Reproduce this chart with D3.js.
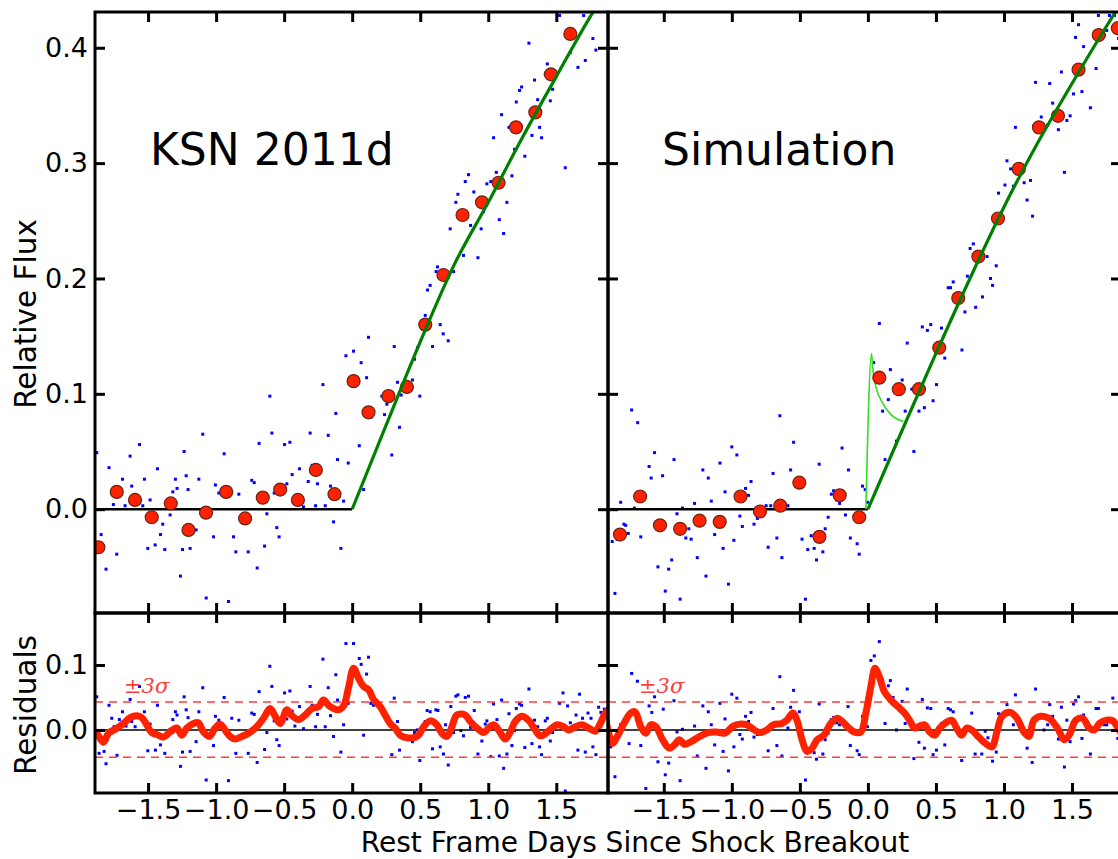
<!DOCTYPE html>
<html>
<head>
<meta charset="utf-8">
<script src="https://cdn.jsdelivr.net/npm/d3@7"></script>
<style>
  body { margin: 0; background: #fff; }
  svg { font-family: "DejaVu Sans", sans-serif; }
  .spine { fill: none; stroke: #000; stroke-width: 3; }
  .tick line { stroke: #000; stroke-width: 3; }
  .tick text { font-family: "DejaVu Sans", sans-serif; font-size: 27px; fill: #000; }
  .axisLabel { font-size: 29.5px; fill: #000; }
  .xLabel { font-size: 28px; }
  .title { font-size: 44px; fill: #000; }
  .dot { fill: #0000ff; }
  .bin { fill: #ff2200; stroke: #6b2414; stroke-width: 1.2; }
  .baseline { fill: none; stroke: #000; stroke-width: 2.5; }
  .model { fill: none; stroke: #008000; stroke-width: 3.2; }
  .shock { fill: none; stroke: #33dd22; stroke-width: 1.6; }
  .zero { fill: none; stroke: #000; stroke-width: 1.5; }
  .sigma { fill: none; stroke: #ff3b3b; stroke-width: 1.4; stroke-dasharray: 8,6; }
  .smooth { fill: none; stroke: #ff2200; stroke-width: 7; stroke-linejoin: round; stroke-linecap: round; }
  .sigmaLabel { font-family: "DejaVu Serif", serif; font-style: italic; font-size: 21px; fill: #ff3b3b; }
</style>
</head>
<body>
<svg id="chart" width="1118" height="859"></svg>
<script>
// tick positions
var xTicks = [-1.5, -1.0, -0.5, 0.0, 0.5, 1.0, 1.5];
var fluxTicks = [0.0, 0.1, 0.2, 0.3, 0.4];
var residTicks = [0.0, 0.1];
var sigmaLevels = [0.043, -0.042];

// KSN 2011d : binned points (red)
var ksnBins = [[-1.865,-0.033],[-1.730,0.015],[-1.596,0.008],[-1.473,-0.007],[-1.333,0.005],
  [-1.203,-0.018],[-1.074,-0.003],[-0.926,0.015],[-0.787,-0.008],[-0.657,0.010],[-0.529,0.017],
  [-0.399,0.008],[-0.267,0.034],[-0.130,0.013],[0.010,0.111],[0.120,0.084],[0.267,0.098],
  [0.402,0.106],[0.537,0.160],[0.671,0.203],[0.811,0.255],[0.954,0.266],[1.076,0.283],
  [1.204,0.331],[1.346,0.344],[1.461,0.377],[1.603,0.412]];

// KSN 2011d : raw light curve (blue)
var ksnDots = [[-1.877,0.049],[-1.845,-0.022],[-1.809,-0.052],[-1.787,0.036],[-1.755,0.004],
  [-1.730,-0.039],[-1.688,0.026],[-1.669,0.003],[-1.632,0.046],[-1.620,0.020],[-1.563,0.056],
  [-1.539,0.003],[-1.527,0.026],[-1.502,-0.034],[-1.485,0.008],[-1.448,-0.031],[-1.431,0.035],
  [-1.409,-0.022],[-1.392,-0.013],[-1.377,-0.035],[-1.338,-0.005],[-1.318,0.015],[-1.299,0.026],
  [-1.287,0.018],[-1.262,-0.058],[-1.247,-0.035],[-1.235,0.050],[-1.220,0.029],[-1.206,0.017],
  [-1.191,-0.034],[-1.147,-0.018],[-1.127,0.026],[-1.098,0.065],[-1.073,-0.077],[-1.019,-0.024],
  [-1.005,0.021],[-0.980,0.014],[-0.956,0.017],[-0.941,0.048],[-0.909,-0.080],[-0.872,-0.024],
  [-0.855,-0.037],[-0.833,0.013],[-0.764,-0.037],[-0.738,0.025],[-0.720,0.023],[-0.698,-0.051],
  [-0.684,0.057],[-0.644,-0.032],[-0.627,-0.004],[-0.605,0.098],[-0.590,0.066],[-0.573,0.014],
  [-0.554,-0.016],[-0.537,-0.024],[-0.497,0.056],[-0.480,0.022],[-0.458,0.058],[-0.441,0.030],
  [-0.387,0.035],[-0.358,0.002],[-0.323,0.024],[-0.309,0.066],[-0.294,0.038],[-0.269,0.003],
  [-0.255,0.022],[-0.215,0.108],[-0.198,0.003],[-0.176,0.064],[-0.159,0.020],[-0.137,-0.011],
  [-0.120,0.083],[-0.108,0.043],[-0.083,-0.034],[-0.063,0.007],[-0.029,0.040],[-0.046,0.133],
  [0.010,0.137],[0.052,0.055],[0.066,0.127],[0.084,0.017],[0.106,0.114],[0.120,0.149],
  [0.142,0.080],[0.238,0.082],[0.218,0.098],[0.255,0.091],[0.309,0.141],[0.291,0.047],
  [0.333,0.110],[0.348,0.071],[0.360,0.099],[0.443,0.112],[0.458,0.130],[0.480,0.140],
  [0.497,0.098],[0.537,0.168],[0.590,0.141],[0.647,0.160],[0.669,0.152],[0.706,0.146],
  [0.554,0.190],[0.573,0.194],[0.627,0.210],[0.617,0.206],[0.745,0.206],[0.720,0.243],
  [0.762,0.266],[0.777,0.273],[0.818,0.220],[0.831,0.284],[0.855,0.290],[0.870,0.246],
  [0.894,0.275],[0.924,0.218],[0.948,0.243],[0.965,0.258],[0.990,0.282],[1.019,0.284],
  [1.039,0.322],[1.059,0.292],[1.081,0.251],[1.098,0.342],[1.113,0.239],[1.137,0.266],
  [1.152,0.331],[1.174,0.289],[1.193,0.312],[1.206,0.353],[1.230,0.363],[1.245,0.366],
  [1.269,0.306],[1.299,0.404],[1.321,0.324],[1.340,0.372],[1.363,0.355],[1.377,0.331],
  [1.392,0.322],[1.419,0.377],[1.434,0.386],[1.456,0.354],[1.473,0.364],[1.524,0.428],
  [1.566,0.296],[1.603,0.396],[1.659,0.383],[1.701,0.428],[1.713,0.389],[1.769,0.408],
  [1.791,0.398]];

var ksnBaseline = [[-1.95,0],[0,0]];
var ksnModel = [[0,0],[0.25,0.073],[0.5,0.145],[0.75,0.212],[1.0,0.266],[1.25,0.322],
  [1.5,0.375],[1.75,0.427],[1.9,0.455]];

var ksnResidDots = [[-1.877,0.051],[-1.860,-0.036],[-1.823,-0.033],[-1.809,-0.052],[-1.787,0.038],
  [-1.767,0.018],[-1.750,0.005],[-1.728,-0.039],[-1.711,0.016],[-1.688,0.028],[-1.662,0.006],
  [-1.632,0.047],[-1.620,0.013],[-1.595,0.005],[-1.563,0.067],[-1.527,0.028],[-1.502,-0.032],
  [-1.485,0.009],[-1.446,-0.031],[-1.431,0.038],[-1.409,-0.023],[-1.377,-0.036],[-1.338,0.001],
  [-1.318,0.016],[-1.299,0.028],[-1.287,0.023],[-1.262,-0.056],[-1.247,-0.034],[-1.235,0.051],
  [-1.220,0.031],[-1.206,0.019],[-1.191,-0.033],[-1.147,-0.018],[-1.127,0.028],[-1.098,0.065],
  [-1.073,-0.077],[-1.019,-0.024],[-1.005,0.021],[-0.980,0.015],[-0.941,0.050],[-0.909,-0.078],
  [-0.885,0.018],[-0.855,-0.036],[-0.833,0.015],[-0.764,-0.036],[-0.738,0.026],[-0.720,0.024],
  [-0.698,-0.050],[-0.684,0.059],[-0.644,-0.030],[-0.627,-0.004],[-0.605,0.098],[-0.590,0.067],
  [-0.573,0.014],[-0.554,-0.015],[-0.537,-0.024],[-0.497,0.057],[-0.480,0.017],[-0.458,0.060],
  [-0.441,0.029],[-0.421,0.006],[-0.387,0.036],[-0.358,0.002],[-0.323,0.026],[-0.309,0.067],
  [-0.294,0.038],[-0.269,0.005],[-0.255,0.024],[-0.215,0.109],[-0.198,0.005],[-0.176,0.065],
  [-0.159,0.022],[-0.137,-0.010],[-0.120,0.085],[-0.108,0.046],[-0.083,-0.034],[-0.063,0.008],
  [-0.029,0.041],[-0.046,0.133],[0.010,0.133],[0.052,0.110],[0.066,0.101],[0.084,-0.008],
  [0.106,0.086],[0.120,0.112],[0.137,0.041],[0.157,0.038],[0.267,0.019],[0.291,-0.038],
  [0.309,0.049],[0.333,0.013],[0.348,-0.031],[0.443,-0.018],[0.458,-0.004],[0.480,0.000],
  [0.497,-0.047],[0.537,0.013],[0.551,0.030],[0.573,0.028],[0.590,-0.029],[0.615,0.031],
  [0.630,0.030],[0.647,-0.026],[0.671,-0.037],[0.686,0.008],[0.706,-0.054],[0.725,0.036],
  [0.745,-0.004],[0.762,0.052],[0.777,0.054],[0.799,-0.001],[0.818,-0.009],[0.831,0.050],
  [0.855,0.052],[0.870,0.004],[0.897,0.030],[0.924,-0.037],[0.953,-0.017],[0.978,0.009],
  [0.990,0.014],[1.019,-0.041],[1.039,0.040],[1.064,0.016],[1.081,-0.040],[1.098,0.046],
  [1.113,-0.059],[1.137,-0.037],[1.152,0.025],[1.174,-0.024],[1.193,-0.001],[1.206,0.033],
  [1.230,0.040],[1.245,0.038],[1.269,-0.027],[1.299,0.063],[1.321,-0.021],[1.340,0.015],
  [1.363,0.005],[1.377,-0.026],[1.392,-0.038],[1.419,0.014],[1.434,0.018],[1.456,-0.017],
  [1.473,-0.004],[1.524,0.041],[1.549,0.057],[1.566,-0.094],[1.583,0.037],[1.603,0.011],
  [1.645,0.023],[1.659,-0.031],[1.671,0.055],[1.693,0.018],[1.713,-0.034],[1.733,0.026],
  [1.755,0.018],[1.769,-0.026],[1.791,-0.038],[1.811,0.035],[1.828,0.027],[1.853,0.032]];

var ksnResidSmooth = [[-1.90,-0.002],[-1.877,-0.005],[-1.828,-0.019],[-1.791,-0.005],[-1.742,0.001],
  [-1.681,0.010],[-1.632,0.019],[-1.583,0.022],[-1.546,0.019],[-1.510,0.008],[-1.473,-0.004],
  [-1.424,-0.008],[-1.387,-0.011],[-1.338,-0.003],[-1.289,0.003],[-1.252,-0.008],[-1.215,0.003],
  [-1.166,0.010],[-1.130,0.011],[-1.093,-0.003],[-1.049,-0.010],[-1.007,0.003],[-0.970,0.009],
  [-0.934,0.000],[-0.897,-0.010],[-0.860,-0.014],[-0.811,-0.010],[-0.762,-0.005],[-0.701,0.005],
  [-0.652,0.018],[-0.603,0.033],[-0.566,0.021],[-0.529,0.010],[-0.480,0.031],[-0.443,0.022],
  [-0.394,0.016],[-0.345,0.023],[-0.296,0.033],[-0.247,0.036],[-0.211,0.046],[-0.174,0.038],
  [-0.137,0.033],[-0.100,0.031],[-0.063,0.037],[-0.027,0.065],[0.010,0.095],[0.046,0.080],
  [0.083,0.067],[0.120,0.062],[0.157,0.047],[0.206,0.036],[0.242,0.023],[0.279,0.010],
  [0.316,0.003],[0.353,-0.008],[0.402,-0.012],[0.451,-0.012],[0.488,-0.008],[0.525,0.005],
  [0.573,0.014],[0.622,0.008],[0.659,-0.005],[0.696,-0.010],[0.733,0.005],[0.769,0.023],
  [0.831,0.023],[0.868,0.013],[0.917,0.003],[0.966,-0.004],[1.002,0.003],[1.039,0.008],
  [1.076,0.000],[1.125,-0.014],[1.162,-0.003],[1.198,0.013],[1.247,0.021],[1.296,0.015],
  [1.345,0.000],[1.382,-0.009],[1.431,-0.004],[1.468,0.003],[1.505,0.008],[1.554,0.005],
  [1.591,0.000],[1.640,0.005],[1.689,0.008],[1.738,0.003],[1.787,-0.002],[1.823,0.010],
  [1.860,0.026],[1.885,0.031]];

// Simulation : binned points (red)
var simBins = [[-1.822,-0.022],[-1.674,0.011],[-1.528,-0.014],[-1.380,-0.017],[-1.237,-0.010],
  [-1.089,-0.011],[-0.936,0.011],[-0.793,-0.002],[-0.644,0.003],[-0.504,0.023],[-0.356,-0.024],
  [-0.207,0.012],[-0.064,-0.007],[0.084,0.114],[0.227,0.104],[0.375,0.104],[0.524,0.140],
  [0.664,0.183],[0.812,0.219],[0.956,0.252],[1.109,0.295],[1.257,0.331],[1.397,0.341],
  [1.548,0.381],[1.696,0.411],[1.837,0.417]];

// Simulation : raw light curve (blue)
var simDots = [[-1.859,-0.073],[-1.879,-0.028],[-1.842,-0.026],[-1.817,0.006],[-1.793,-0.013],
  [-1.780,-0.014],[-1.761,-0.021],[-1.736,0.086],[-1.716,0.001],[-1.692,0.075],[-1.669,-0.024],
  [-1.608,0.037],[-1.593,0.027],[-1.568,0.049],[-1.543,-0.050],[-1.509,0.029],[-1.489,-0.071],
  [-1.464,-0.052],[-1.442,-0.044],[-1.425,0.043],[-1.403,-0.004],[-1.380,-0.078],[-1.363,0.001],
  [-1.338,-0.025],[-1.316,-0.017],[-1.299,-0.026],[-1.274,0.005],[-1.254,-0.042],[-1.213,0.034],
  [-1.190,-0.058],[-1.173,0.027],[-1.151,0.007],[-1.126,-0.022],[-1.087,0.040],[-1.064,-0.034],
  [-1.050,0.015],[-1.025,-0.065],[-1.000,0.054],[-0.985,-0.027],[-0.963,0.047],[-0.941,-0.006],
  [-0.923,-0.015],[-0.899,0.018],[-0.877,0.012],[-0.859,0.024],[-0.837,-0.013],[-0.812,-0.008],
  [-0.748,0.003],[-0.733,-0.033],[-0.714,0.003],[-0.697,0.031],[-0.669,-0.025],[-0.647,0.081],
  [-0.632,-0.042],[-0.588,0.003],[-0.568,0.034],[-0.546,0.058],[-0.484,-0.026],[-0.459,-0.078],
  [-0.442,-0.035],[-0.417,-0.023],[-0.395,-0.034],[-0.378,-0.044],[-0.358,0.039],[-0.331,-0.037],
  [-0.314,-0.017],[-0.292,-0.007],[-0.269,0.013],[-0.252,0.016],[-0.230,0.008],[-0.208,0.005],
  [-0.190,0.053],[-0.165,-0.005],[-0.143,0.034],[-0.129,-0.025],[-0.079,-0.030],[-0.064,-0.039],
  [-0.040,0.020],[-0.020,0.017],[-0.003,0.006],[0.042,0.127],[0.084,0.161],[0.108,0.085],
  [0.126,0.043],[0.150,0.095],[0.165,0.121],[0.210,0.059],[0.252,0.112],[0.274,0.085],
  [0.289,0.144],[0.323,0.104],[0.338,0.050],[0.375,0.085],[0.400,0.158],[0.415,0.088],
  [0.437,0.155],[0.462,0.160],[0.479,0.094],[0.504,0.108],[0.541,0.157],[0.565,0.131],
  [0.691,0.138],[0.713,0.171],[0.792,0.175],[0.590,0.192],[0.607,0.192],[0.627,0.197],
  [0.731,0.202],[0.751,0.226],[0.775,0.230],[0.842,0.184],[0.876,0.219],[0.901,0.200],
  [0.916,0.194],[0.943,0.211],[0.960,0.274],[1.007,0.281],[1.022,0.302],[1.049,0.295],
  [1.069,0.280],[1.084,0.331],[1.128,0.296],[1.148,0.283],[1.170,0.268],[1.195,0.285],
  [1.210,0.254],[1.232,0.370],[1.274,0.340],[1.321,0.333],[1.336,0.369],[1.358,0.352],
  [1.400,0.329],[1.422,0.379],[1.444,0.292],[1.462,0.337],[1.486,0.341],[1.511,0.360],
  [1.526,0.409],[1.548,0.420],[1.573,0.362],[1.585,0.401],[1.635,0.348],[1.677,0.382],
  [1.694,0.428],[1.738,0.411],[1.755,0.415],[1.775,0.428],[1.812,0.428],[1.842,0.408],
  [1.849,0.405]];

var simBaseline = [[-1.95,0],[0,0]];
var simModel = [[0,0],[0.25,0.068],[0.5,0.135],[0.75,0.200],[1.0,0.262],[1.25,0.318],
  [1.5,0.369],[1.75,0.418],[1.9,0.446]];
var simShock = [[-0.015,0.0],[0.027,0.135],[0.034,0.124],[0.059,0.106],[0.109,0.092],
  [0.170,0.082],[0.262,0.076]];

var simResidDots = [[-1.953,0.031],[-1.928,0.033],[-1.891,-0.026],[-1.859,-0.072],[-1.817,0.008],
  [-1.755,-0.021],[-1.736,0.087],[-1.694,0.075],[-1.669,-0.024],[-1.632,-0.090],[-1.608,0.037],
  [-1.588,0.027],[-1.568,0.051],[-1.543,-0.049],[-1.504,0.032],[-1.489,-0.069],[-1.464,-0.051],
  [-1.425,0.045],[-1.403,-0.003],[-1.380,-0.078],[-1.363,0.001],[-1.274,0.006],[-1.254,-0.040],
  [-1.213,0.037],[-1.190,-0.059],[-1.173,0.028],[-1.151,0.008],[-1.126,-0.023],[-1.087,0.041],
  [-1.064,-0.033],[-1.050,0.017],[-1.025,-0.063],[-1.000,0.055],[-0.985,-0.026],[-0.963,0.049],
  [-0.941,-0.007],[-0.923,-0.014],[-0.899,0.021],[-0.877,0.013],[-0.859,0.027],[-0.837,-0.011],
  [-0.812,-0.007],[-0.733,-0.032],[-0.714,0.004],[-0.697,0.033],[-0.669,-0.024],[-0.647,0.082],
  [-0.632,-0.040],[-0.588,0.003],[-0.568,0.035],[-0.546,0.061],[-0.504,0.028],[-0.459,-0.077],
  [-0.417,-0.031],[-0.395,-0.035],[-0.378,-0.045],[-0.358,0.040],[-0.331,-0.037],[-0.314,-0.015],
  [-0.292,-0.005],[-0.269,0.016],[-0.252,0.019],[-0.230,0.011],[-0.208,0.008],[-0.146,0.036],
  [-0.129,-0.024],[-0.079,-0.032],[-0.064,-0.038],[-0.040,0.021],[-0.003,0.005],[0.022,0.107],
  [0.047,0.114],[0.084,0.136],[0.108,0.077],[0.126,0.010],[0.150,0.068],[0.165,0.076],
  [0.185,0.050],[0.210,0.000],[0.252,0.044],[0.274,0.010],[0.289,0.063],[0.338,-0.044],
  [0.375,-0.019],[0.400,0.047],[0.415,-0.028],[0.437,0.034],[0.462,0.033],[0.479,-0.038],
  [0.504,-0.031],[0.541,0.010],[0.565,-0.023],[0.590,0.033],[0.607,0.031],[0.627,0.028],
  [0.652,0.004],[0.689,-0.047],[0.731,0.004],[0.763,0.026],[0.788,-0.037],[0.837,-0.037],
  [0.862,-0.002],[0.882,-0.012],[0.916,-0.048],[0.943,-0.034],[0.960,0.025],[1.022,0.039],
  [1.069,0.008],[1.084,0.054],[1.128,0.010],[1.170,-0.028],[1.207,-0.050],[1.232,0.063],
  [1.274,0.023],[1.294,0.000],[1.321,0.008],[1.336,0.039],[1.358,0.021],[1.400,-0.014],
  [1.422,0.035],[1.444,-0.057],[1.462,0.015],[1.486,-0.018],[1.511,0.040],[1.526,0.045],
  [1.548,0.051],[1.573,-0.013],[1.585,0.023],[1.635,-0.037],[1.677,0.033],[1.694,0.033],
  [1.738,0.008],[1.755,0.008],[1.800,0.049],[1.837,-0.013],[1.849,-0.021]];

var simResidSmooth = [[-1.978,0.010],[-1.941,0.023],[-1.905,-0.005],[-1.879,-0.021],[-1.842,-0.010],
  [-1.793,0.010],[-1.743,0.026],[-1.711,0.028],[-1.669,0.005],[-1.632,-0.005],[-1.595,0.008],
  [-1.558,0.005],[-1.509,-0.015],[-1.459,-0.028],[-1.422,-0.023],[-1.385,-0.015],[-1.348,-0.022],
  [-1.299,-0.018],[-1.237,-0.010],[-1.175,-0.004],[-1.114,-0.003],[-1.052,-0.005],[-0.990,0.006],
  [-0.941,0.009],[-0.891,0.008],[-0.842,0.001],[-0.793,-0.004],[-0.743,0.000],[-0.694,0.008],
  [-0.632,0.010],[-0.595,0.015],[-0.551,0.026],[-0.521,0.015],[-0.484,-0.015],[-0.447,-0.033],
  [-0.410,-0.028],[-0.373,-0.015],[-0.323,-0.008],[-0.274,0.010],[-0.225,0.018],[-0.188,0.013],
  [-0.151,0.005],[-0.101,-0.003],[-0.052,-0.003],[-0.015,0.026],[0.022,0.067],[0.052,0.095],
  [0.084,0.082],[0.121,0.059],[0.170,0.046],[0.220,0.036],[0.269,0.026],[0.306,0.015],
  [0.343,0.003],[0.380,0.006],[0.417,0.008],[0.454,-0.003],[0.491,-0.008],[0.528,0.003],
  [0.565,0.010],[0.615,0.015],[0.652,0.003],[0.689,-0.008],[0.726,0.003],[0.763,0.000],
  [0.800,-0.008],[0.849,-0.018],[0.911,-0.026],[0.948,-0.003],[0.985,0.021],[1.047,0.027],
  [1.096,0.018],[1.146,-0.003],[1.183,-0.010],[1.220,0.015],[1.269,0.021],[1.331,0.018],
  [1.393,0.003],[1.442,-0.015],[1.479,-0.008],[1.528,0.015],[1.578,0.018],[1.627,0.003],
  [1.664,0.000],[1.701,0.010],[1.751,0.015],[1.800,0.014],[1.837,0.003],[1.870,-0.008]];

// layout
var chart = d3.select("#chart");
var leftEdge = 95, centreEdge = 608, rightEdge = 1121;
var topEdge = 12, midEdge = 613, bottomEdge = 793;

var xLeft = d3.scaleLinear().domain([-1.89, 1.88]).range([leftEdge, centreEdge]);
var xRight = d3.scaleLinear().domain([-1.91, 1.86]).range([centreEdge, rightEdge]);
var yFlux = d3.scaleLinear().domain([-0.09, 0.431]).range([midEdge, topEdge]);
var yResid = d3.scaleLinear().domain([-0.097, 0.18]).range([bottomEdge, midEdge]);

function makePlot(name, x, y) {
  var x0 = x.range()[0], x1 = x.range()[1];
  var y0 = y.range()[1], y1 = y.range()[0];
  chart.append("clipPath")
      .attr("id", name + "Clip")
    .append("rect")
      .attr("x", x0)
      .attr("y", y0)
      .attr("width", x1 - x0)
      .attr("height", y1 - y0);
  return chart.append("g")
    .attr("id", name)
    .attr("clip-path", "url(#" + name + "Clip)");
}

function drawDots(plot, x, y, data) {
  plot.selectAll(".dot")
      .data(data)
    .enter().append("rect")
      .classed("dot", true)
      .attr("x", function(d) { return x(d[0]) - 1.5; })
      .attr("y", function(d) { return y(d[1]) - 1.5; })
      .attr("width", 3)
      .attr("height", 3);
}

function drawLine(plot, x, y, data, cls, curve) {
  var line = d3.line()
    .x(function(d) { return x(d[0]); })
    .y(function(d) { return y(d[1]); })
    .curve(curve || d3.curveLinear);
  plot.append("path")
    .classed(cls, true)
    .attr("d", line(data));
}

function drawBins(plot, x, y, data) {
  plot.selectAll(".bin")
      .data(data)
    .enter().append("circle")
      .classed("bin", true)
      .attr("r", 6.5)
      .attr("cx", function(d) { return x(d[0]); })
      .attr("cy", function(d) { return y(d[1]); });
}

function drawFrame(x, y, yTicks, showX, showY) {
  var x0 = x.range()[0], x1 = x.range()[1];
  var y0 = y.range()[1], y1 = y.range()[0];
  var frame = chart.append("g");
  var bottom = d3.axisBottom(x).tickValues(xTicks).tickSize(-10).tickPadding(7)
    .tickFormat(showX ? d3.format(".1f") : "");
  var top = d3.axisTop(x).tickValues(xTicks).tickSize(-10).tickFormat("");
  var left = d3.axisLeft(y).tickValues(yTicks).tickSize(-10).tickPadding(7)
    .tickFormat(showY ? d3.format(".1f") : "");
  var right = d3.axisRight(y).tickValues(yTicks).tickSize(-10).tickFormat("");
  frame.append("g").attr("transform", "translate(0," + y1 + ")").call(bottom);
  frame.append("g").attr("transform", "translate(0," + y0 + ")").call(top);
  frame.append("g").attr("transform", "translate(" + x0 + ",0)").call(left);
  frame.append("g").attr("transform", "translate(" + x1 + ",0)").call(right);
  frame.selectAll(".domain").remove();
  frame.selectAll("g").attr("font-size", null).attr("font-family", null);
  frame.append("rect")
    .classed("spine", true)
    .attr("x", x0)
    .attr("y", y0)
    .attr("width", x1 - x0)
    .attr("height", y1 - y0);
}

function drawFluxPanel(name, x, dots, bins, baseline, model, shock, title, titleX) {
  var plot = makePlot(name, x, yFlux);
  drawDots(plot, x, yFlux, dots);
  drawLine(plot, x, yFlux, baseline, "baseline");
  if (shock) drawLine(plot, x, yFlux, shock, "shock", d3.curveMonotoneX);
  drawBins(plot, x, yFlux, bins);
  drawLine(plot, x, yFlux, model, "model", d3.curveMonotoneX);
  chart.append("text")
    .classed("title", true)
    .attr("x", titleX)
    .attr("y", 165)
    .text(title);
}

function drawResidPanel(name, x, dots, smooth, labelX) {
  var plot = makePlot(name, x, yResid);
  drawDots(plot, x, yResid, dots);
  sigmaLevels.forEach(function(s) {
    drawLine(plot, x, yResid, [[x.domain()[0], s], [x.domain()[1], s]], "sigma");
  });
  drawLine(plot, x, yResid, [[x.domain()[0], 0], [x.domain()[1], 0]], "zero");
  drawLine(plot, x, yResid, smooth, "smooth", d3.curveCatmullRom);
  chart.append("text")
    .classed("sigmaLabel", true)
    .attr("x", labelX)
    .attr("y", 693)
    .text("\u00b13\u03c3");
}

drawFluxPanel("ksnFlux", xLeft, ksnDots, ksnBins, ksnBaseline, ksnModel, null, "KSN 2011d", 150);
drawFluxPanel("simFlux", xRight, simDots, simBins, simBaseline, simModel, simShock, "Simulation", 662);
drawResidPanel("ksnResid", xLeft, ksnResidDots, ksnResidSmooth, 124);
drawResidPanel("simResid", xRight, simResidDots, simResidSmooth, 639);

drawFrame(xLeft, yFlux, fluxTicks, false, true);
drawFrame(xRight, yFlux, fluxTicks, false, false);
drawFrame(xLeft, yResid, residTicks, true, true);
drawFrame(xRight, yResid, residTicks, true, false);

chart.append("text")
  .classed("axisLabel", true)
  .attr("transform", "translate(36,314) rotate(-90)")
  .attr("text-anchor", "middle")
  .text("Relative Flux");
chart.append("text")
  .classed("axisLabel", true)
  .attr("transform", "translate(36,705) rotate(-90)")
  .attr("text-anchor", "middle")
  .text("Residuals");
chart.append("text")
  .classed("axisLabel xLabel", true)
  .attr("x", 635)
  .attr("y", 852)
  .attr("text-anchor", "middle")
  .text("Rest Frame Days Since Shock Breakout");
</script>
</body>
</html>
